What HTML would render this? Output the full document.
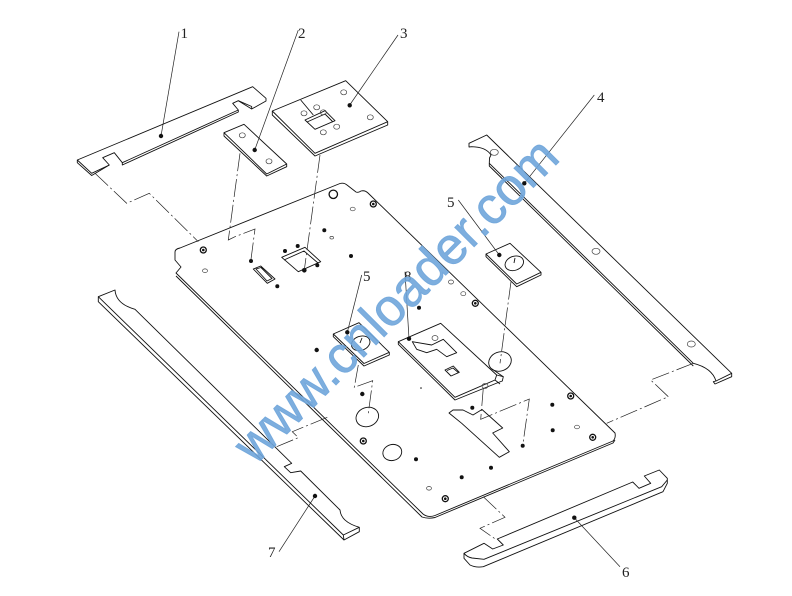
<!DOCTYPE html>
<html><head><meta charset="utf-8"><style>
html,body{margin:0;padding:0;background:#fff}
svg{display:block}
.l{fill:none;stroke:#111;stroke-width:.9;stroke-linejoin:round}
.p{fill:#fff;stroke:#111;stroke-width:.9;stroke-linejoin:round}
.d{fill:none;stroke:#222;stroke-width:.7;stroke-dasharray:18 3 2 3}
.t{fill:#222;stroke:none;font:15px "Liberation Serif",serif}
.h{fill:none;stroke:#444;stroke-width:.7}
</style></head><body>
<svg width="792" height="596" viewBox="0 0 792 596" xmlns="http://www.w3.org/2000/svg">
<!-- main plate -->
<path class="p" d="M175,252 Q175,249 180,248 L340,183.5 Q344,182.5 347,185 L356,192 Q358,193 361,191 Q365,190 368,193 L615,433 Q616,438 613,441 L435,515.5 Q428,518 423,514 L176,273 L181,267 L175,260 Z"/>
<path class="l" d="M176,276 L422,517 Q428,519 435,517.5 L613,443 L615,440"/>
<!-- plate holes -->
<g class="l">
<path d="M253.300,269 L260.700,266 L275,279 L267.300,283.300 Z M256,269 L261,267.500 L272,278.500 L267,281 Z"/>
<path d="M281.700,257.300 L305,247.300 L320.700,261.700 L298.300,271.700 Z M284,260 L304,251 L318,263"/>
<ellipse cx="367.300" cy="417" rx="11.500" ry="9.500" transform="rotate(-20 367.300 417)"/>
<ellipse cx="500" cy="361.500" rx="11.500" ry="9.500" transform="rotate(-20 500 361.500)"/>
<ellipse cx="392.300" cy="452.500" rx="9.500" ry="8" transform="rotate(-15 392.300 452.500)"/>
<path d="M449,413 L453,410 L463,410 L473,415 L482,409.500 L502.700,428 L492.700,433 L509.300,451.700 L499.300,457.300 L461.700,423.300 Z"/>
</g>
<g fill="#111">
<circle cx="251" cy="261" r="2"/><circle cx="277.300" cy="286.300" r="2"/><circle cx="304.300" cy="270.300" r="2.300"/><circle cx="324.300" cy="230.300" r="2"/><circle cx="351" cy="256" r="2"/><circle cx="316.700" cy="350" r="2.200"/><circle cx="362.300" cy="394" r="2.200"/><circle cx="419" cy="307.700" r="2"/><circle cx="416" cy="459.300" r="2"/><circle cx="461.700" cy="477.300" r="2"/><circle cx="491" cy="467.700" r="2"/><circle cx="472.300" cy="407.700" r="2"/><circle cx="552.300" cy="404.700" r="2"/><circle cx="552.700" cy="430.300" r="2"/><circle cx="522.700" cy="445.700" r="2"/><circle cx="421" cy="388" r=".8"/>
<circle cx="285" cy="251" r="2"/><circle cx="297.700" cy="246" r="2"/><circle cx="317.300" cy="265.300" r="2"/>
</g>
<g fill="none" stroke="#111" stroke-width="1.300">
<circle cx="203.300" cy="250" r="3"/><circle cx="333.300" cy="194.300" r="4.200"/><circle cx="373.300" cy="204" r="3"/><circle cx="475.300" cy="303.300" r="3"/><circle cx="363.300" cy="441" r="3"/><circle cx="445.300" cy="498.700" r="3"/><circle cx="570.700" cy="396" r="3"/><circle cx="592.700" cy="437.300" r="3"/>
</g>
<g fill="#111"><circle cx="203.300" cy="250" r="1.300"/><circle cx="373.300" cy="204" r="1.300"/><circle cx="475.300" cy="303.300" r="1.300"/><circle cx="363.300" cy="441" r="1.300"/><circle cx="445.300" cy="498.700" r="1.300"/><circle cx="570.700" cy="396" r="1.300"/><circle cx="592.700" cy="437.300" r="1.300"/></g>
<g class="h">
<ellipse cx="205" cy="270.700" rx="2.500" ry="1.800"/><ellipse cx="352.700" cy="209" rx="2.500" ry="1.800"/><ellipse cx="331.700" cy="237.700" rx="1.800" ry="1.300"/><ellipse cx="451" cy="282" rx="2.500" ry="2"/><ellipse cx="463.300" cy="293.700" rx="2.500" ry="2"/><ellipse cx="429" cy="488.300" rx="2.500" ry="1.800"/><ellipse cx="577" cy="427" rx="2.500" ry="1.800"/>
</g>
<!-- part 1 -->
<path class="p" d="M77.300,160 L252.700,86.700 L266,98.300 L266,101 L251.700,109 L238.300,100.700 L232.700,103.300 L238.300,110 L238.300,112 L122.300,165 L122.300,162.700 L114.300,152.700 L102.700,157.700 L109.300,165 L91.700,175.500 L77.300,162.700 Z"/>
<path class="l" d="M77.300,160 L91.700,173.300 L109.300,165 M122.300,162.700 L238.300,110 M251.700,109 L251.700,106.500 L238.300,100.700"/>
<!-- part 2 -->
<path class="p" d="M224,132.700 L244,124.300 L286.700,164 L286.700,166.700 L266.700,176 L224,136 Z"/>
<path class="l" d="M224,132.700 L266.700,174 L286.700,164"/>
<ellipse class="h" cx="242.300" cy="135.300" rx="3" ry="2.500"/><ellipse class="h" cx="269" cy="161.300" rx="3" ry="2.500"/>
<!-- part 3 -->
<path class="p" d="M272.300,111 L345.700,80.700 L387.700,121.700 L387.700,125 L315,156 L272.300,115 Z"/>
<path class="l" d="M272.300,111 L315,153.300 L387.700,121.700"/>
<path class="l" d="M305,120 L325,110.700 L335,120.700 L315,129.300 Z M300.700,100 L313.300,115 M307,122 L325,114 L333,122"/>
<g class="h"><ellipse cx="343.700" cy="92.300" rx="3" ry="2.500"/><ellipse cx="370.300" cy="117.300" rx="3" ry="2.500"/><ellipse cx="304" cy="113.300" rx="3" ry="2.500"/><ellipse cx="316.700" cy="107.300" rx="3" ry="2.500"/><ellipse cx="323.300" cy="112.300" rx="3" ry="2.500"/><ellipse cx="336.700" cy="126.700" rx="3" ry="2.500"/><ellipse cx="323.300" cy="132.300" rx="3" ry="2.500"/></g>
<!-- part 4 -->
<path class="p" d="M469,143.300 L486.700,135 L731.700,373.300 L731.700,376.700 L715,384 L713.300,381.700 L716,381 Q712,368 693.300,363.300 L489.300,163.300 L489.500,158 L491,155 Q486,147 471.700,146.700 L469,147 Z"/>
<path class="l" d="M489.300,163.300 L489.300,166 L693.300,366 M716,381 L731.700,373.300"/>
<g class="h"><ellipse cx="494.300" cy="152.300" rx="4" ry="3"/><ellipse cx="596" cy="251.300" rx="4" ry="3"/><ellipse cx="691.300" cy="344" rx="4" ry="3"/></g>
<!-- part 5 right -->
<path class="p" d="M486,254 L510,243.300 L541,272.300 L541,275 L516.700,286.700 L486,256.700 Z"/>
<path class="l" d="M486,254 L516.700,284 L541,272.300"/>
<ellipse class="l" cx="514.300" cy="263.300" rx="9.500" ry="7" transform="rotate(-20 514.300 263.300)"/><path class="l" d="M514,263 L515,258"/>
<!-- part 5 left -->
<path class="p" d="M333.300,334 L359,322.700 L389.300,352.300 L389.300,355 L364,366 L333.300,336.700 Z"/>
<path class="l" d="M333.300,334 L364,363.500 L389.300,352.300"/>
<ellipse class="l" cx="360.700" cy="343.300" rx="9.500" ry="7" transform="rotate(-20 360.700 343.300)"/><path class="l" d="M360,343 L362,338"/>
<!-- part 8 -->
<path class="p" d="M398.300,341.700 L440.700,323.300 L496.700,375 L503.300,376.700 L502.300,381 L497,383 L455,400 L398.300,344.300 Z"/>
<path class="l" d="M398.300,341.700 L455,397.300 L495,380 L496.700,375 M495,380 L500,384 M492,369 L503.300,376.700"/>
<path class="l" d="M412.300,341.700 L431.700,345 L443.300,339.300 L456.700,352.700 L446.700,356.700 L436.700,349.300 L426.700,352.700 L416.700,349.300 Z M445,370 L453.300,366 L459.300,372.300 L451,376 Z M447,370.500 L453,368 L458,372.300"/>
<g class="h"><ellipse cx="435" cy="338" rx="3" ry="2.500"/><ellipse cx="485" cy="386" rx="3" ry="2.500"/></g>
<!-- part 6 -->
<path class="p" d="M464,553.300 L484,543.300 L492.700,549 L503.300,545 L497.300,539 L632.700,482 L639,488.300 L650.700,483.300 L644.300,476 L659.300,470 L667.300,478.300 L667.300,483.300 L663,491.700 L483.300,566.700 Q476,568 470,565 L464,558.300 Z"/>
<path class="l" d="M464,553.300 Q467,557 472,558 L484,559.300 L661.700,486.700 L667.300,480"/>
<!-- part 7 -->
<path class="p" d="M98.300,296.700 L115,290 Q116,304 135,309.300 L291.700,463.300 L284.300,466.700 L290.700,472.700 L300.700,471 L340,510 Q341,522 359.300,527.300 L359.300,531.700 L344,540 L98.300,301.700 Z"/>
<path class="l" d="M98.300,296.700 L343.300,535 L344,540 M343.300,535 L359.300,527.300"/>
<!-- dashes -->
<g class="d">
<path d="M95,173.300 L126.700,203.300 L149.300,193.300 L198.300,241.700"/>
<path d="M240,153.300 L228.300,240 L235,236.700 L255,229 L251,259.300"/>
<path d="M320,155 L304.300,270"/>
<path d="M693.300,363.300 L650.700,380 L668.300,396.700 L606.700,423.300"/>
<path d="M483.300,496.700 L505,517.300 L480,528.300 L496.700,540"/>
<path d="M511,281.700 L500,363.300"/>
<path d="M358.300,365 L354.300,387.300 L372.700,380.700 L368.300,413.300"/>
<path d="M483.300,388 L480.700,419.300 L529.300,399 L522.700,445.700"/>
<path d="M327.300,417.300 L292.300,431.700 L298.300,437.700 L276.700,446.700"/>
</g>
<!-- leaders -->
<g stroke="#222" stroke-width=".7" fill="none">
<path d="M179,31.700 L161,136"/><path d="M298.300,30 L254.700,150"/><path d="M398,35 L349.700,105"/><path d="M594.300,95 L524.300,183.300"/><path d="M458.300,200 L499.300,255"/><path d="M361.700,275 L347.300,332.300"/><path d="M405,271.700 L409,338.700"/><path d="M279,551.700 L315,496"/><path d="M620,566.700 L574.300,517.700"/>
</g>
<g fill="#111">
<circle cx="161" cy="136" r="2.200"/><circle cx="254.700" cy="150" r="2.200"/><circle cx="349.700" cy="105.300" r="2.200"/><circle cx="524.300" cy="183.300" r="2.200"/><circle cx="499.300" cy="255" r="2.200"/><circle cx="347.300" cy="332.300" r="2.200"/><circle cx="409" cy="338.700" r="2.200"/><circle cx="315" cy="496" r="2.200"/><circle cx="574.300" cy="517.700" r="2.200"/>
</g>
<!-- labels -->
<text class="t" x="180.500" y="38">1</text>
<text class="t" x="298" y="38">2</text>
<text class="t" x="400" y="38">3</text>
<text class="t" x="597" y="102">4</text>
<text class="t" x="447" y="207">5</text>
<text class="t" x="363" y="281">5</text>
<text class="t" x="404" y="281">8</text>
<text class="t" x="268" y="557">7</text>
<text class="t" x="622" y="577">6</text>
<!-- watermark -->
<text transform="translate(255,466) rotate(-45)" font-family="Liberation Sans, sans-serif" font-size="52" fill="#6fa5da" stroke="#6fa5da" stroke-width=".8" fill-opacity=".9" stroke-opacity=".9">www.cnloader.com</text>
</svg>
</body></html>
